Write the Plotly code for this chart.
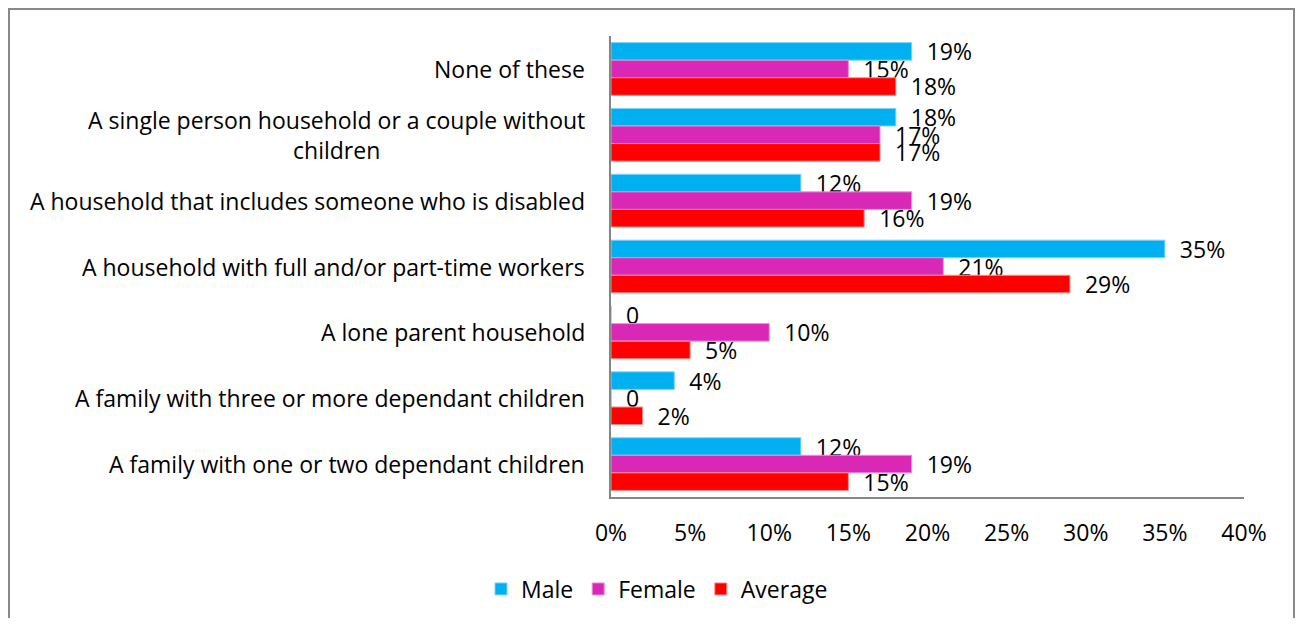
import plotly.graph_objects as go

categories = [
    "None of these",
    "A single person household or a couple without<br>children",
    "A household that includes someone who is disabled",
    "A household with full and/or part-time workers",
    "A lone parent household",
    "A family with three or more dependant children",
    "A family with one or two dependant children",
]
male = [19, 18, 12, 35, 0, 4, 12]
female = [15, 17, 19, 21, 10, 0, 19]
average = [18, 17, 16, 29, 5, 2, 15]
x_ticks = [0, 5, 10, 15, 20, 25, 30, 35, 40]
x_tick_labels = ["0%", "5%", "10%", "15%", "20%", "25%", "30%", "35%", "40%"]

FONT = "Open Sans"
FS = 23
OFF = 8  # body margin of the html page
W, H = 1303 - 2 * OFF, 626 - 2 * OFF
L, R, T, B = 611 - OFF, 1244 - OFF, 36 - OFF, 497 - OFF


def labels(vals):
    pad = "\u00a0\u00a0"
    return [pad + ("0" if v == 0 else f"{v}%") for v in vals]


series = [
    ("Male", male, "#00B0F0", "#7FD4F6"),
    ("Female", female, "#DA28B6", "#EC8FD9"),
    ("Average", average, "#FF0000", "#FF8C8C"),
]

fig = go.Figure()
for name, vals, col, edge in series:
    fig.add_trace(go.Bar(
        name=name, y=categories, x=vals, orientation="h",
        marker=dict(color=col, line=dict(color=edge, width=1)),
        text=labels(vals), textposition="outside", constraintext="none",
        cliponaxis=False,
        textfont=dict(family=FONT, size=FS, color="#000000"),
        hoverinfo="skip",
    ))

annotations = []
for c in categories:
    annotations.append(dict(
        x=0, xref="paper", y=c, yref="y", xanchor="right", yanchor="middle",
        xshift=-24, text=c, showarrow=False, align="center",
        font=dict(family=FONT, size=FS, color="#000000"),
    ))

pw = R - L
ph = B - T
def sx(p):  # svg pixel -> paper x
    return (p - L) / pw
def sy(p):  # svg pixel -> paper y
    return (B - p) / ph

fig.update_layout(
    width=W, height=H,
    margin=dict(l=L, r=W - R, t=T, b=H - B, pad=0, autoexpand=False),
    paper_bgcolor="white", plot_bgcolor="white",
    barmode="group", bargap=0.2, bargroupgap=0,
    font=dict(family=FONT, size=FS, color="#000000"),
    showlegend=True,
    legend=dict(orientation="h", x=sx(657 - OFF), xanchor="center",
                y=sy(589 - OFF), yanchor="middle",
                font=dict(family=FONT, size=FS, color="#000000"),
                bgcolor="rgba(0,0,0,0)"),
    annotations=annotations,
    shapes=[dict(type="rect", xref="paper", yref="paper",
                 x0=sx(1), x1=sx(W - 1), y0=sy(H + 20), y1=sy(1),
                 line=dict(color="#898989", width=2), layer="below")],
)
fig.update_xaxes(
    range=[0, 40], tickvals=x_ticks, ticktext=x_tick_labels,
    showgrid=False, zeroline=False, showline=True, linecolor="#868686",
    linewidth=2, ticks="", ticklabelstandoff=14,
    tickfont=dict(family=FONT, size=FS, color="#000000"),
)
fig.update_yaxes(
    autorange="reversed", showticklabels=False, showgrid=False,
    zeroline=False, showline=True, linecolor="#868686", linewidth=2, ticks="",
)

fig.write_html("out.html")
